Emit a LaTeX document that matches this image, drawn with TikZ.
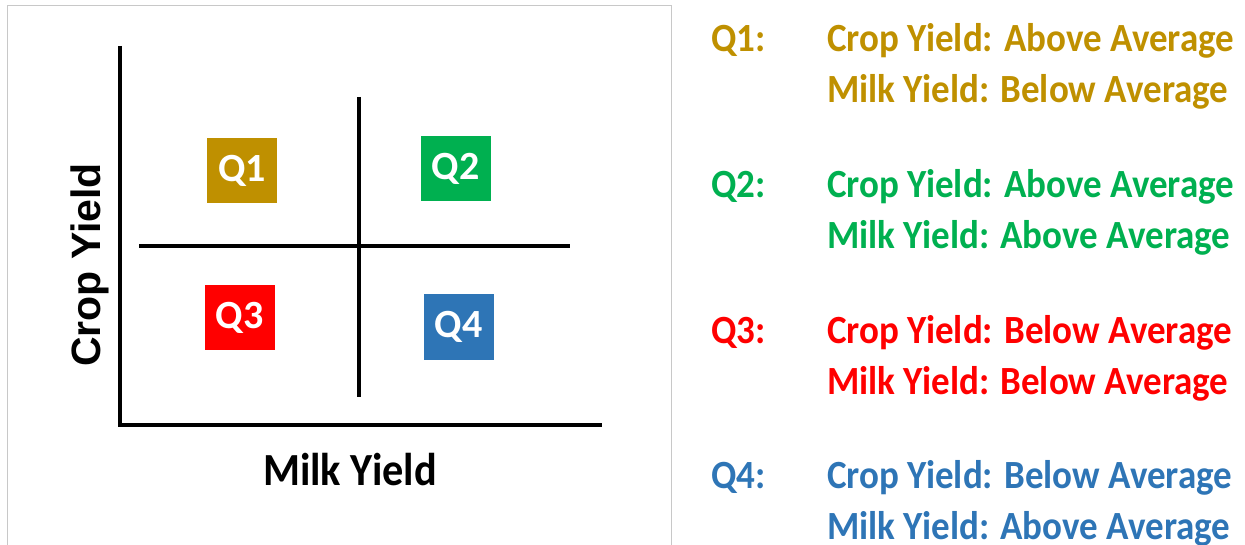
\documentclass[tikz,border=0pt]{standalone}
\usepackage{fontspec}
\setmainfont{Carlito}
\newfontfamily\arialbold{Liberation Sans}[BoldFont={* Bold}]
\definecolor{qone}{HTML}{BF9000}
\definecolor{qtwo}{HTML}{00B050}
\definecolor{qthree}{HTML}{FF0000}
\definecolor{qfour}{HTML}{2E75B6}
\definecolor{framegray}{HTML}{C8C8C8}
\begin{document}
\begin{tikzpicture}[x=1pt,y=-1pt,
  axisline/.style={line width=3.5pt,black},
  qbox/.style={minimum width=70pt,minimum height=65pt,inner sep=0pt,text=white,
    font=\fontsize{40}{44}\selectfont\bfseries},
  legtext/.style={anchor=base west,inner sep=0pt,
    font=\fontsize{40}{44}\selectfont\bfseries,xscale=0.925}]
\useasboundingbox (0,0) rectangle (1245,545);
\draw[framegray,line width=1pt] (7,550) -- (7,6) -- (671,6) -- (671,550);
% axes
\coordinate (ytop) at (120,46);
\coordinate (origin) at (120,425);
\coordinate (xend) at (602,425);
\coordinate (hl) at (139,246);
\coordinate (hr) at (570,246);
\coordinate (vt) at (359,97);
\coordinate (vb) at (359,397);
\draw[axisline] (ytop) -- ([yshift=-1.75pt]origin) ;
\draw[axisline] ([xshift=-1.75pt]origin) -- (xend);
\draw[axisline] (hl) -- (hr);
\draw[axisline] (vt) -- (vb);
% boxes
\node[qbox,fill=qone] (q1) at (242,170.5) {Q1};
\node[qbox,fill=qtwo] (q2) at (455.5,169) {Q2};
\node[qbox,fill=qthree] (q3) at (239.5,317.5) {Q3};
\node[qbox,fill=qfour] (q4) at (458.5,327) {Q4};
% axis labels
\node[anchor=base,inner sep=0pt,font=\fontsize{46}{50}\selectfont\bfseries,xscale=0.92] (mx) at (350,485) {Milk Yield};
\node[anchor=base,inner sep=0pt,rotate=90,font=\fontsize{41}{44}\arialbold\bfseries] (cy) at (100,265) {Crop Yield};
% legend
\node[legtext,text=qone] (l1) at (711,52) {Q1:};
\node[legtext,text=qone] (l1a) at (827,52) {Crop Yield: Above Average};
\node[legtext,text=qone] (l1b) at (827,102.5) {Milk Yield: Below Average};
\node[legtext,text=qtwo] (l2) at (711,198) {Q2:};
\node[legtext,text=qtwo] (l2a) at (827,198) {Crop Yield: Above Average};
\node[legtext,text=qtwo] (l2b) at (827,248.5) {Milk Yield: Above Average};
\node[legtext,text=qthree] (l3) at (711,344) {Q3:};
\node[legtext,text=qthree] (l3a) at (827,344) {Crop Yield: Below Average};
\node[legtext,text=qthree] (l3b) at (827,394.5) {Milk Yield: Below Average};
\node[legtext,text=qfour] (l4) at (711,488) {Q4:};
\node[legtext,text=qfour] (l4a) at (827,488) {Crop Yield: Below Average};
\node[legtext,text=qfour] (l4b) at (827,539) {Milk Yield: Above Average};
\end{tikzpicture}
\end{document}
